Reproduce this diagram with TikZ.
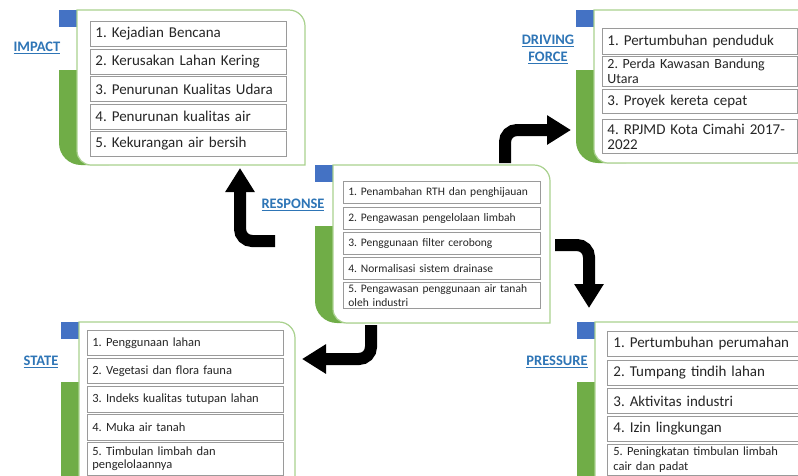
\documentclass[tikz,border=0pt]{standalone}
\usepackage{fontspec}
\setmainfont{Carlito}
\usetikzlibrary{arrows.meta,shadows}
\frenchspacing

\definecolor{tabblue}{HTML}{4472C4}
\definecolor{tabgreen}{HTML}{70AD47}
\definecolor{panelline}{HTML}{A9D18E}
\definecolor{headblue}{HTML}{2E75B6}
\definecolor{itemline}{HTML}{9A9A9A}
\definecolor{itemtext}{HTML}{262626}

% One DPSIR panel: #1 name, #2 tab left x, #3 top y, #4 right x, #5 bottom y, #6 top of green strip
\newcommand\dpsirpanel[6]{%
  \fill[tabgreen] (#2,#6) -- (#2,#5-22) arc[start angle=180,end angle=90,radius=22]
        -- (#2+50,#5) -- (#2+50,#6) -- cycle;
  \fill[tabblue] (#2,#3) rectangle (#2+18,#3+17);
  \draw[panelline, line width=1.2pt, fill=white] (#2+18,#3) -- (#4-16,#3)
        arc[start angle=-90,end angle=0,radius=16] -- (#4,#5) -- (#2+32,#5)
        arc[start angle=90,end angle=180,radius=14] -- cycle;
  \coordinate (#1) at (#2+18,#3);
}

\tikzset{
  entry/.style={draw=itemline, fill=white, line width=0.8pt, anchor=north west,
    inner xsep=5pt, inner ysep=0pt, align=left, text=itemtext,
    drop shadow={shadow xshift=1pt, shadow yshift=-1pt, fill=black!45, opacity=0.8}},
  big/.style={font=\fontsize{15}{15}\selectfont},
  mid/.style={font=\fontsize{12.5}{13.5}\selectfont},
  small/.style={font=\fontsize{11.5}{14}\selectfont},
  heading/.style={font=\bfseries\fontsize{14.5}{18}\selectfont, text=headblue,
    align=center, inner sep=0pt},
  flowarrow/.style={line width=12pt, black, rounded corners=12pt,
    -{Triangle[width=28pt,length=24pt]}}
}

\begin{document}
\begin{tikzpicture}[x=1pt,y=-1pt]
\useasboundingbox (0,0) rectangle (798,475);
\clip (0,0) rectangle (798,475);
\fill[white] (0,0) rectangle (798,475);

% panels
\dpsirpanel{impactpanel}{59}{10}{305}{165}{70}
\dpsirpanel{drivingpanel}{576}{10}{830}{163}{70}
\dpsirpanel{responsepanel}{315}{165}{550}{323}{226}
\dpsirpanel{statepanel}{61}{322}{295}{500}{382}
\dpsirpanel{pressurepanel}{577}{322}{830}{500}{382}

% headings
\node[heading] (impact) at (37,48) {\underline{IMPACT}};
\node[heading] (driving) at (548,49) {\underline{DRIVING}\\[-1pt]\underline{FORCE}};
\node[heading] (response) at (293,205) {\underline{RESPONSE}};
\node[heading] (state) at (41,362) {\underline{STATE}};
\node[heading] (pressure) at (557,362) {\underline{PRESSURE}};

% IMPACT
\node[entry, big, text width=186pt, minimum height=25pt] (im1) at (90,21) {1. Kejadian Bencana};
\node[entry, big, text width=186pt, minimum height=25pt] (im2) at (90,48.5) {2. Kerusakan Lahan Kering};
\node[entry, big, text width=186pt, minimum height=25pt] (im3) at (90,76) {3. Penurunan Kualitas Udara};
\node[entry, big, text width=186pt, minimum height=25pt] (im4) at (90,103.5) {4. Penurunan kualitas air};
\node[entry, big, text width=186pt, minimum height=25pt] (im5) at (90,131) {5. Kekurangan air bersih};

% DRIVING FORCE
\node[entry, big, text width=185pt, minimum height=26pt] (df1) at (602,28) {1. Pertumbuhan penduduk};
\node[entry, font=\fontsize{14}{15}\selectfont, text width=185pt, minimum height=30pt] (df2) at (602,56) {2. Perda Kawasan Bandung\\Utara};
\node[entry, big, text width=185pt, minimum height=24pt] (df3) at (602,89) {3. Proyek kereta cepat};
\node[entry, big, text width=185pt, minimum height=34pt] (df4) at (602,119) {4. RPJMD Kota Cimahi 2017-\\2022};

% RESPONSE
\node[entry, small, text width=187pt, minimum height=22pt] (rs1) at (343,181) {1. Penambahan RTH dan penghijauan};
\node[entry, small, text width=187pt, minimum height=22pt] (rs2) at (343,207) {2. Pengawasan pengelolaan limbah};
\node[entry, small, text width=187pt, minimum height=22pt] (rs3) at (343,232) {3. Penggunaan filter cerobong};
\node[entry, small, text width=187pt, minimum height=22pt] (rs4) at (343,257) {4. Normalisasi sistem drainase};
\node[entry, small, text width=187pt, minimum height=26pt] (rs5) at (343,282) {5. Pengawasan penggunaan air tanah\\oleh industri};

% STATE
\node[entry, mid, text width=186pt, minimum height=25pt] (st1) at (87,330) {1. Penggunaan lahan};
\node[entry, mid, text width=186pt, minimum height=25pt] (st2) at (87,358) {2. Vegetasi dan flora fauna};
\node[entry, mid, text width=186pt, minimum height=26pt] (st3) at (87,386) {3. Indeks kualitas tutupan lahan};
\node[entry, mid, text width=186pt, minimum height=26pt] (st4) at (87,414) {4. Muka air tanah};
\node[entry, mid, text width=186pt, minimum height=33pt] (st5) at (87,442) {5. Timbulan limbah dan\\pengelolaannya};

% PRESSURE
\node[entry, big, text width=183pt, inner xsep=6pt, minimum height=25pt] (pr1) at (607,331) {1. Pertumbuhan perumahan};
\node[entry, big, text width=183pt, inner xsep=6pt, minimum height=25pt] (pr2) at (607,360) {2. Tumpang tindih lahan};
\node[entry, big, text width=183pt, inner xsep=6pt, minimum height=25pt] (pr3) at (607,388) {3. Aktivitas industri};
\node[entry, big, text width=183pt, inner xsep=6pt, minimum height=25pt] (pr4) at (607,416) {4. Izin lingkungan};
\node[entry, font=\fontsize{12.5}{15}\selectfont, text width=183pt, inner xsep=6pt, minimum height=31pt] (pr5) at (607,444) {5. Peningkatan timbulan limbah\\cair dan padat};

% bent arrows leaving the RESPONSE panel
\coordinate (toImpactS) at (275,241);
\coordinate (toImpactE) at (240,168);
\coordinate (toDrivingS) at (505,163);
\coordinate (toDrivingE) at (571,130);
\coordinate (toPressureS) at (555,245);
\coordinate (toPressureE) at (589,308);
\coordinate (toStateS) at (371,325);
\coordinate (toStateE) at (302,359);

\draw[flowarrow] (toImpactS) -| (toImpactE);
\draw[flowarrow] (toDrivingS) |- (toDrivingE);
\draw[flowarrow] (toPressureS) -| (toPressureE);
\draw[flowarrow] (toStateS) |- (toStateE);
\end{tikzpicture}
\end{document}
